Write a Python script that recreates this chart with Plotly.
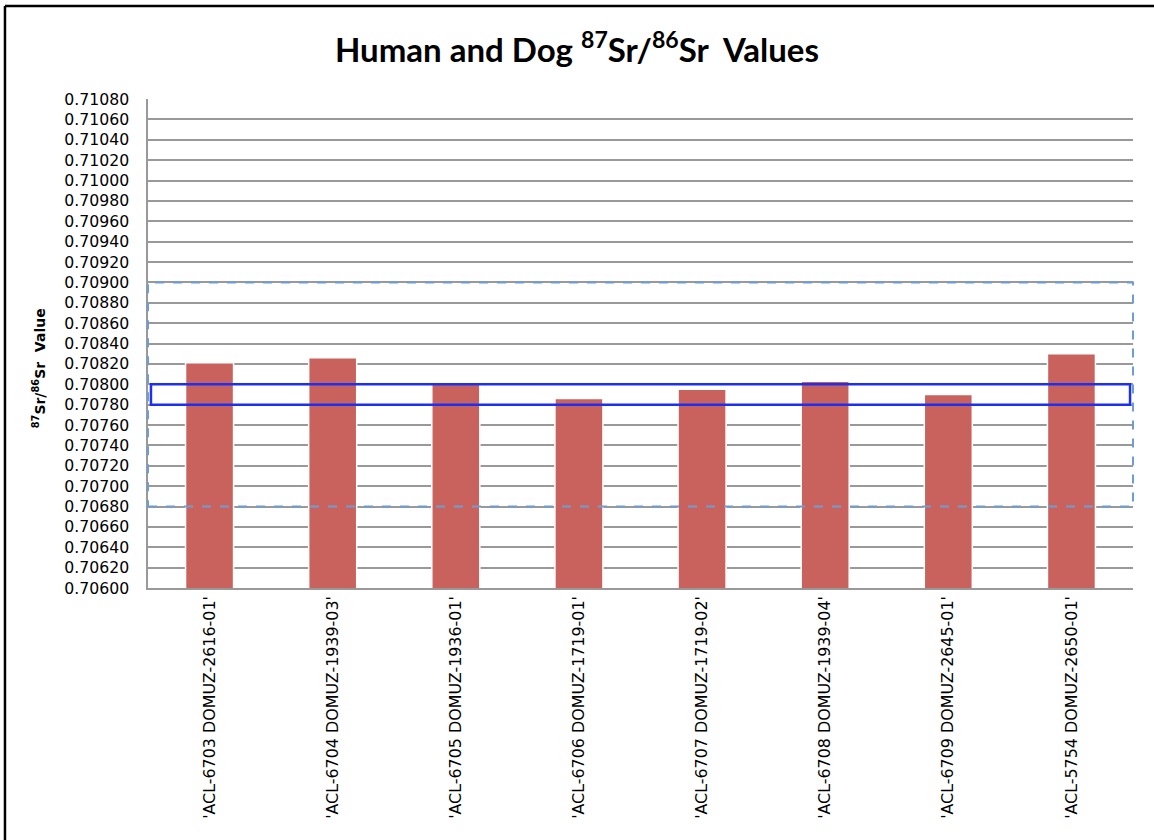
import plotly.graph_objs as go

samples = [
    "'ACL-6703 DOMUZ-2616-01'",
    "'ACL-6704 DOMUZ-1939-03'",
    "'ACL-6705 DOMUZ-1936-01'",
    "'ACL-6706 DOMUZ-1719-01'",
    "'ACL-6707 DOMUZ-1719-02'",
    "'ACL-6708 DOMUZ-1939-04'",
    "'ACL-6709 DOMUZ-2645-01'",
    "'ACL-5754 DOMUZ-2650-01'",
]
sr_values = [0.70821, 0.70826, 0.70801, 0.70786, 0.70795, 0.70803, 0.70790, 0.70830]

# local baseline ranges drawn as boxes
wide_range = [0.70680, 0.70900]
narrow_range = [0.70780, 0.70800]

fig = go.Figure()
fig.add_trace(
    go.Bar(
        x=samples,
        y=sr_values,
        marker=dict(color="#C9625D", line=dict(color="white", width=1.5)),
        width=0.39,
    )
)

fig.add_shape(
    type="rect", xref="paper", yref="y",
    x0=0, x1=1, y0=wide_range[0], y1=wide_range[1],
    line=dict(color="#6E9DD3", width=2, dash="dash"),
    layer="above",
)
fig.add_shape(
    type="rect", xref="paper", yref="y",
    x0=0.003, x1=0.997, y0=narrow_range[0], y1=narrow_range[1],
    line=dict(color="#1B30F2", width=2.5),
    layer="above",
)
# outer frame (top and left edges only are visible in the crop)
fig.add_shape(
    type="line", xref="paper", yref="paper",
    x0=-0.1452, x1=1.05, y0=1.1902, y1=1.1902,
    line=dict(color="black", width=2.5),
)
fig.add_shape(
    type="line", xref="paper", yref="paper",
    x0=-0.1452, x1=-0.1452, y0=1.1902, y1=-0.6,
    line=dict(color="black", width=2.5),
)

fig.add_annotation(
    text="<b><sup>87</sup>Sr/<sup>86</sup>Sr  Value</b>",
    xref="paper", yref="paper",
    x=-0.121, y=0.449,
    textangle=-90,
    showarrow=False,
    font=dict(family="DejaVu Sans", size=14, color="black"),
)

fig.update_layout(
    width=1154,
    height=840,
    margin=dict(l=148, r=21, t=99, b=252),
    paper_bgcolor="white",
    plot_bgcolor="white",
    showlegend=False,
    font=dict(family="DejaVu Sans", color="black"),
    title=dict(
        text="<b>Human and Dog <sup>87</sup>Sr/<sup>86</sup>Sr  Values</b>",
        x=0.5, xanchor="center", y=0.9405, yanchor="middle",
        font=dict(family="Lato", size=33, color="black"),
    ),
    xaxis=dict(
        tickangle=-90,
        tickfont=dict(size=15.9),
        showline=True, linecolor="#999999", linewidth=1.5,
        showgrid=False,
        ticks="",
    ),
    yaxis=dict(
        range=[0.70600, 0.71080],
        dtick=0.0002,
        tick0=0.706,
        tickformat=".5f",
        tickfont=dict(size=15.7),
        ticklabelstandoff=14,
        showgrid=True, gridcolor="#999999", gridwidth=1.5,
        showline=True, linecolor="#999999", linewidth=1.5,
        zeroline=False,
    ),
)

fig.write_html(
    "out.html",
    config={"displayModeBar": False},
    post_script="document.body.style.margin='0px';",
)
